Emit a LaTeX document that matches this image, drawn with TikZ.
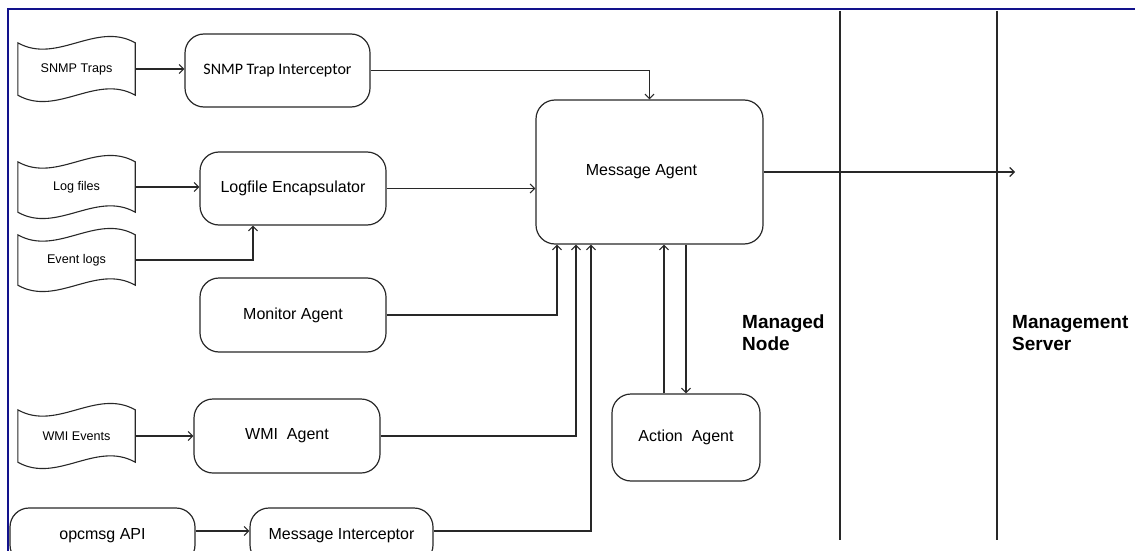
\documentclass[tikz,border=0pt]{standalone}
\usepackage{fontspec}
\setmainfont{Liberation Sans}
\newfontfamily\calib{Carlito}
\usetikzlibrary{arrows.meta,calc}
\definecolor{frameblue}{RGB}{18,18,140}
\definecolor{ink}{RGB}{40,40,40}
\begin{document}
\begin{tikzpicture}[x=1pt,y=-1pt,
  box/.style={draw=ink,line width=1.2pt,rounded corners=19pt,align=center,inner sep=0pt,font=\fontsize{16}{19}\selectfont},
  docnode/.style={minimum width=117pt,minimum height=52pt,inner sep=0pt,font=\fontsize{12.6}{15}\selectfont},
  conn/.style={draw=ink,line width=1.1pt},
  arr/.style={conn,-{Straight Barb[length=4.5pt,width=9pt]}},
  lab/.style={font=\fontsize{19}{22}\selectfont\bfseries,align=left,anchor=west,inner sep=0pt},
  divider/.style={draw=ink,line width=2pt}
]
\useasboundingbox (0,0) rectangle (1135,551);
\draw[frameblue,line width=2.5pt] (8,551) -- (8,9) -- (1135,9);

% document shapes
\node[docnode] (snmpt) at (76.5,69) {SNMP Traps};
\node[docnode,minimum height=50pt] (logf) at (76.5,187) {Log files};
\node[docnode,minimum height=50pt] (evt) at (76.5,260) {Event logs};
\node[docnode] (wmie) at (76.5,436) {WMI Events};
\foreach \n in {snmpt,logf,evt,wmie}{
  \draw[conn] (\n.north west) .. controls +(39,22) and +(-39,-22) .. (\n.north east)
    -- (\n.south east) .. controls +(-39,-22) and +(39,22) .. (\n.south west) -- cycle;
}

% rounded boxes
\node[box,minimum width=185pt,minimum height=73pt,font=\calib\fontsize{16}{19}\selectfont] (sti) at (277.5,70.5) {SNMP Trap Interceptor};
\node[box,minimum width=186pt,minimum height=73pt] (le) at (293,188.5) {Logfile Encapsulator};
\node[box,minimum width=186pt,minimum height=74pt] (ma) at (293,315) {Monitor Agent};
\node[box,minimum width=186pt,minimum height=74pt] (wa) at (287,436) {WMI\ \ Agent};
\node[box,minimum width=185pt,minimum height=56pt] (api) at (102.5,536) {opcmsg API};
\node[box,minimum width=183pt,minimum height=56pt] (mi) at (341.5,536) {Message Interceptor};
\node[box,minimum width=227pt,minimum height=144pt] (msg) at (649.5,172) {Message Agent\hspace*{16pt}};
\node[box,minimum width=148pt,minimum height=87pt] (aa) at (686,437.5) {Action\ \ Agent};

% dividers and zone labels
\draw[divider] (840,11) -- (840,540);
\draw[divider] (997,11) -- (997,540);
\node[lab] (mn) at (742,333) {Managed\\Node};
\node[lab] (ms) at (1012,333) {Management\\Server};

% connectors
\draw[arr] (snmpt.east) -- (snmpt.east -| sti.west);
\draw[arr] (sti.east) -| (msg.north);
\draw[arr] (logf.east) -- (logf.east -| le.west);
\draw[arr] (evt.east) -| ([xshift=-40pt]le.south);
\draw[arr] (le.east) -- (le.east -| msg.west);
\draw[arr] (ma.east) -| ([xshift=-92.5pt]msg.south);
\draw[arr] (wa.east) -| ([xshift=-73.5pt]msg.south);
\draw[arr] (wmie.east) -- (wmie.east -| wa.west);
\draw[arr] ([yshift=5pt]api.east) -- ([yshift=5pt]mi.west);
\draw[arr] ([yshift=5pt]mi.east) -| ([xshift=-58.5pt]msg.south);
\draw[arr] ([xshift=-22pt]aa.north) -- ([xshift=-22pt]aa.north |- msg.south);
\draw[arr] (aa.north |- msg.south) -- (aa.north);
\coordinate (srv) at (1015,172);
\draw[arr] (msg.east) -- (srv);
\end{tikzpicture}
\end{document}
